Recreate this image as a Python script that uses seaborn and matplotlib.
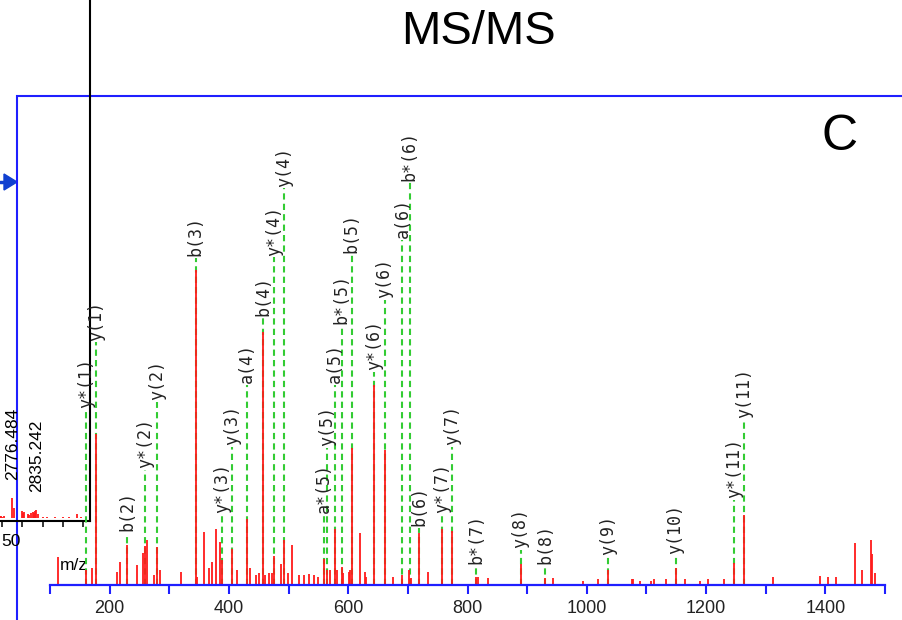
import numpy as np
import pandas as pd
import matplotlib
matplotlib.use("Agg")
import matplotlib.pyplot as plt
import seaborn as sns
from matplotlib.patches import Polygon

# ---------------- data ----------------
peak_mz = [114, 160, 171, 177, 212, 218, 229, 246, 256, 259, 263, 275, 279, 284, 320,
           344, 347, 358, 366, 372, 378, 385, 388, 405, 413, 430, 435, 446, 451, 457,
           460, 468, 472, 476, 488, 493, 499, 506, 518, 526, 534, 543, 549, 560, 565,
           570, 578, 581, 589, 592, 601, 603, 606, 620, 628, 630, 644, 661, 675, 691,
           702, 705, 719, 733, 758, 774, 815, 817, 835, 889, 930, 944, 994, 1019, 1036,
           1075, 1077, 1090, 1107, 1113, 1132, 1149, 1165, 1190, 1204, 1230, 1247, 1264,
           1313, 1391, 1404, 1418, 1449, 1462, 1476, 1478, 1484]
peak_int = [8.9, 4.8, 5.4, 47.9, 4.1, 7.3, 12.7, 6.3, 10.2, 12.4, 14.3, 3.2, 12.1, 4.8, 4.1,
            100.0, 2.5, 16.8, 5.4, 7.3, 17.8, 13.7, 7.9, 11.4, 4.8, 21.0, 5.4, 3.2, 3.8, 80.3,
            3.2, 3.8, 3.8, 9.2, 6.7, 14.3, 3.8, 12.7, 3.2, 3.2, 3.5, 3.2, 2.5, 8.3, 4.8,
            4.8, 17.8, 4.8, 5.7, 3.8, 4.1, 4.8, 43.5, 16.5, 4.1, 2.5, 63.5, 42.9, 2.5, 3.2,
            4.8, 2.2, 16.5, 4.1, 17.8, 17.1, 2.5, 2.5, 2.2, 6.7, 2.2, 2.2, 1.3, 1.9, 4.8,
            1.9, 1.9, 1.3, 1.3, 1.9, 1.9, 5.4, 1.9, 1.3, 1.9, 1.9, 7.0, 22.2,
            2.5, 2.9, 2.5, 2.5, 13.3, 4.8, 14.3, 9.8, 3.8]

ion_label = ["y*(1)", "y(1)", "b(2)", "y*(2)", "y(2)", "b(3)", "y*(3)", "y(3)", "a(4)",
             "b(4)", "y*(4)", "y(4)", "a*(5)", "y(5)", "a(5)", "b*(5)", "b(5)", "y*(6)",
             "y(6)", "a(6)", "b*(6)", "b(6)", "y*(7)", "y(7)", "b*(7)", "y(8)", "b(8)",
             "y(9)", "y(10)", "y*(11)", "y(11)"]
ion_mz = [160, 177, 229, 259, 279, 344, 388, 405, 430, 457, 476, 493, 560, 565, 578, 589,
          606, 644, 661, 691, 703, 719, 758, 774, 815, 889, 930, 1036, 1149, 1247, 1264]
ion_level = [55.6, 77.1, 16.5, 36.5, 58.1, 103.8, 22.2, 43.8, 63.5, 84.8, 104.1, 126.0,
             22.2, 43.5, 63.5, 82.5, 104.8, 67.6, 90.5, 109.5, 127.9, 18.1, 22.2, 43.8,
             6.3, 11.1, 6.3, 8.9, 9.5, 27.0, 52.4]

inset_mz = [2747, 2749, 2752, 2755, 2776.5, 2779.7, 2799, 2801, 2804, 2814, 2817, 2821,
            2826, 2829, 2832, 2835.2, 2838, 2850, 2862, 2880, 2900, 2915, 2934, 2943]
inset_int = [2, 2, 1.5, 2, 20, 10, 7, 5, 6, 4, 3, 5, 6, 5, 7, 8, 4, 1, 1, 1, 1, 1, 4, 1]
inset_label_mz = [2776.484, 2835.242]
inset_label_level = [38, 26]
inset_ticks = [2750, 2800, 2850, 2900, 2950]

x_ticks = list(range(100, 1501, 100))
x_tick_labels = [str(v) if v % 200 == 0 else "" for v in x_ticks]

peaks = pd.DataFrame({"mz": peak_mz, "intensity": peak_int})
ions = pd.DataFrame({"label": ion_label, "mz": ion_mz, "level": ion_level})

# ---------------- styling ----------------
sns.set_theme(style="white")
plt.rcParams["font.family"] = ["Liberation Sans", "DejaVu Sans"]

W, H = 902, 620
fig = plt.figure(figsize=(W / 100, H / 100), dpi=100)
fig.patch.set_facecolor("white")


def fx(px):
    return px / W


def fy(py):
    return 1 - py / H


BLUE = "#1f1fff"
RED = "#ff1a1a"
GREEN = "#33cc33"

# ---------------- inset (previous spectrum) ----------------
ins = fig.add_axes([0, fy(521), fx(90), 521 / H])
ins.set_facecolor("none")
ins.set_xlim(2746, 2966)
ins.set_ylim(-3, 518)
ins.vlines(inset_mz, 0, inset_int, colors=RED, lw=1.3)
for m, lv in zip(inset_label_mz, inset_label_level):
    ins.text(m, lv, f"{m:.3f}", rotation=90, ha="center", va="bottom",
             fontsize=12.5, color="black")
for s in ["top", "left"]:
    ins.spines[s].set_visible(False)
for s in ["right", "bottom"]:
    ins.spines[s].set_visible(True)
    ins.spines[s].set_color("black")
    ins.spines[s].set_linewidth(1.5)
ins.set_xticks(inset_ticks)
ins.set_xticklabels([])
ins.set_yticks([])
ins.tick_params(axis="x", bottom=True, direction="out", length=4.5, width=1.1,
                color="black")

# ---------------- main spectrum ----------------
ax = fig.add_axes([fx(50), fy(585), fx(885 - 50), (585 - 96) / H])
ax.set_facecolor("none")
ax.set_xlim(100, 1500)
ax.set_ylim(0, 489 / 3.15)
ax.vlines(ions["mz"], 0, ions["level"], colors=GREEN, linestyles=(0, (3, 2)), lw=1.5)
ax.vlines(peaks["mz"], 0, peaks["intensity"], colors=RED, lw=1.3)
for lab, m, lv in zip(ions["label"], ions["mz"], ions["level"]):
    ax.text(m, lv + 0.5, lab, rotation=90, ha="center", va="bottom", fontsize=12,
            family="DejaVu Sans Mono", color="#222222")
sns.despine(ax=ax, left=True, top=True, right=True, bottom=False)
ax.spines["bottom"].set_color(BLUE)
ax.spines["bottom"].set_linewidth(1.6)
ax.set_xticks(x_ticks)
ax.set_xticklabels(x_tick_labels, fontsize=13, color="#222222")
ax.set_yticks([])
ax.tick_params(axis="x", bottom=True, direction="out", length=6.5, width=1.5,
               color=BLUE, pad=4)

# ---------------- overlay: frame, arrow, titles ----------------
ov = fig.add_axes([0, 0, 1, 1], zorder=-1)
ov.set_facecolor("none")
ov.set_xlim(0, W)
ov.set_ylim(H, 0)
ov.axis("off")
ov.plot([17, 17, W], [H, 96, 96], color=BLUE, lw=1.5, solid_joinstyle="miter")
ov.add_patch(Polygon([[17, 182], [4, 174], [4, 190]], closed=True, color="#1040d0"))
ov.plot([0, 5], [182, 182], color="#1040d0", lw=2.5)
ov.text(478, 32, "MS/MS", ha="center", va="center", fontsize=34, color="black")
ov.text(840, 137, "C", ha="center", va="center", fontsize=36, color="black")
ov.text(74, 565, "m/z", ha="center", va="center", fontsize=12.5, color="black")
ov.text(11, 541, "50", ha="center", va="center", fontsize=12.5, color="black")

fig.savefig("out.png", dpi=100, facecolor="white")
